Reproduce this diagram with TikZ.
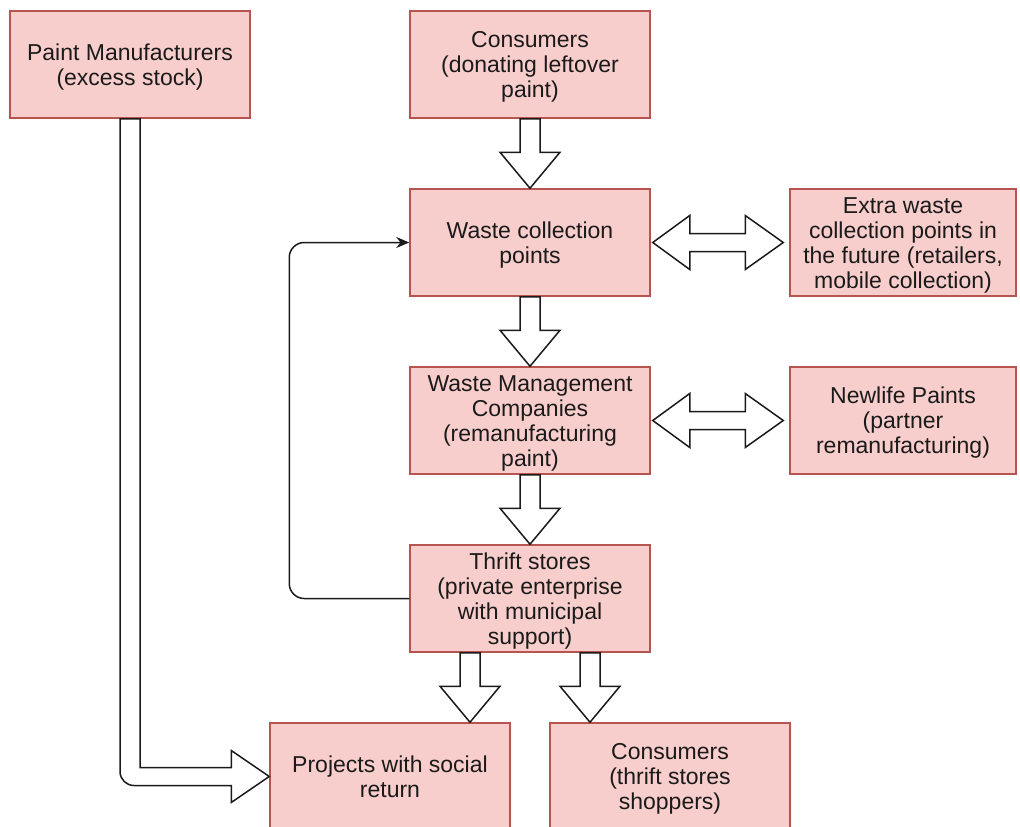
\documentclass[tikz,border=0pt]{standalone}
\usepackage{fontspec}
\setmainfont{Liberation Sans}
\usetikzlibrary{calc,arrows.meta}
\definecolor{boxfill}{HTML}{F8CECC}
\definecolor{boxline}{HTML}{B85450}
\definecolor{inkline}{HTML}{1A1A1A}
\tikzset{
  box/.style={draw=boxline, fill=boxfill, line width=1.5pt,
    minimum width=240pt, minimum height=107pt, inner sep=0pt,
    font=\fontsize{23}{25}\selectfont, text=inkline},
  sidebox/.style={box, minimum width=226pt},
  blockarrow/.style={draw=inkline, fill=white, line width=1.5pt, line join=miter},
  feedback/.style={draw=inkline, line width=1.5pt, rounded corners=15pt,
    -{Stealth[length=13pt,width=11pt]}}
}
% centred lines of a box label, set a little low in the box
\newcommand{\boxtext}[1]{%
  \raisebox{-3pt}[\height][\depth]{\begin{tabular}{@{}c@{}}#1\end{tabular}}}
% downward block arrow from point #1 to point #2, shaft centred on #1
\newcommand{\vblock}[2]{%
  \draw[blockarrow] let \p1=#1, \p2=#2 in
    (\x1-10pt,\y1) -- (\x1+10pt,\y1) -- (\x1+10pt,\y2+36pt) -- (\x1+30pt,\y2+36pt)
    -- (\x1,\y2) -- (\x1-30pt,\y2+36pt) -- (\x1-10pt,\y2+36pt) -- cycle;}
% horizontal double block arrow between the east side #1 and west side #2
\newcommand{\hdouble}[2]{%
  \draw[blockarrow] let \p1=#1, \p2=#2 in
    (\x1+2pt,\y1) -- (\x1+39pt,\y1+27pt) -- (\x1+39pt,\y1+9pt) -- (\x2-44pt,\y1+9pt)
    -- (\x2-44pt,\y1+27pt) -- (\x2-6pt,\y1) -- (\x2-44pt,\y1-27pt) -- (\x2-44pt,\y1-9pt)
    -- (\x1+39pt,\y1-9pt) -- (\x1+39pt,\y1-27pt) -- cycle;}
\begin{document}
\begin{tikzpicture}[x=1pt,y=-1pt]
\useasboundingbox (0,0) rectangle (1020,827);

\node[box] (pm) at (130,64.5) {\boxtext{Paint Manufacturers\\(excess stock)}};
\node[box] (c1) at (530,64.5) {\boxtext{Consumers\\(donating leftover\\paint)}};
\node[box] (wc) at (530,242.5) {\boxtext{Waste collection\\points}};
\node[sidebox] (ex) at (903,242.5) {\boxtext{Extra waste\\collection points in\\the future (retailers,\\mobile collection)}};
\node[box] (wm) at (530,420.5) {\boxtext{Waste Management\\Companies\\(remanufacturing\\paint)}};
\node[sidebox] (nl) at (903,420.5) {\boxtext{Newlife Paints\\(partner\\remanufacturing)}};
\node[box] (ts) at (530,598.5) {\boxtext{Thrift stores\\(private enterprise\\with municipal\\support)}};
\node[box] (pr) at (390,776.5) {\boxtext{Projects with social\\return}};
\node[box] (c2) at (670,776.5) {\boxtext{Consumers\\(thrift stores\\shoppers)}};

% flow down the central column
\vblock{(c1.south)}{(wc.north)}
\vblock{(wc.south)}{(wm.north)}
\vblock{(wm.south)}{(ts.north)}
\vblock{($(ts.south)+(-60,0)$)}{($(pr.north)+(80,0)$)}
\vblock{($(ts.south)+(60,0)$)}{($(c2.north)+(-80,0)$)}

% exchanges with the side partners
\hdouble{(wc.east)}{(ex.west)}
\hdouble{(wm.east)}{(nl.west)}

% excess stock routed to the social projects
\draw[blockarrow] let \p1=(pm.south), \p2=(pr.west) in
  (\x1-10pt,\y1) -- (\x1-10pt,\y2+5pt)
  arc[start angle=180, end angle=270, radius=14pt]
  -- (\x2-38pt,\y2-9pt) -- (\x2-38pt,\y2-26pt) -- (\x2,\y2)
  -- (\x2-38pt,\y2+26pt) -- (\x2-38pt,\y2+9pt) -- (\x1+10pt,\y2+9pt)
  -- (\x1+10pt,\y1) -- cycle;

% thrift stores feeding back into the collection points
\draw[feedback] (ts.west) -- ++(-120,0) |- (wc.west);
\end{tikzpicture}
\end{document}
